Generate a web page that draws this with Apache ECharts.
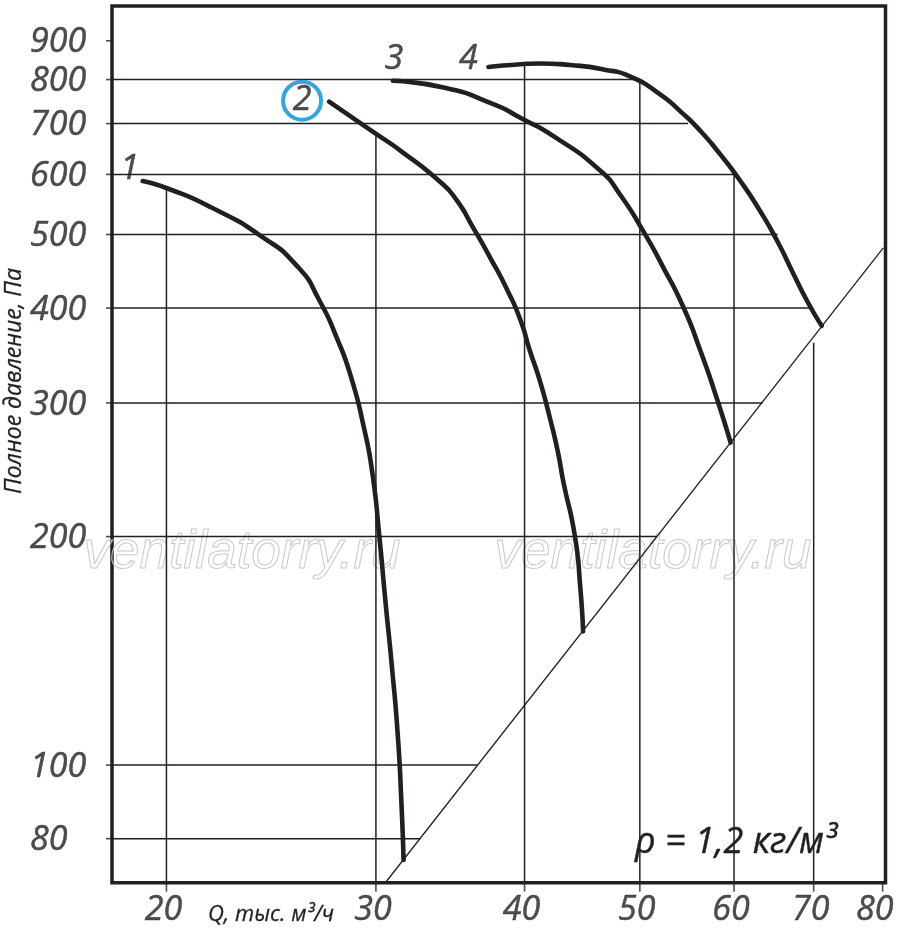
<!DOCTYPE html>
<html>
<head>
<meta charset="utf-8">
<script src="https://cdn.jsdelivr.net/npm/echarts@6/dist/echarts.min.js"></script>
<style>html,body{margin:0;padding:0;background:#fff}#c{width:900px;height:945px}</style>
</head>
<body>
<div id="c"></div>
<script>
// ---- tick labels ----
const xTickLabels = [20, 30, 40, 50, 60, 70, 80];
const yTickLabels = [80, 100, 200, 300, 400, 500, 600, 700, 800, 900];

// ---- fan curves: Q (thousand m3/h) and total pressure (Pa) ----
const curveNames = ['1', '2', '3', '4'];
const curve1Q = [19.1, 20.1, 21.8, 24.0, 25.8, 26.9, 27.8, 28.6, 29.3, 29.8, 30.2, 30.55, 30.94, 31.29, 31.51, 31.65];
const curve1P = [588, 574, 543, 498, 453, 409, 366, 324, 279, 242, 200, 165, 135, 110, 90, 75];
const curve2Q = [27.4, 29.9, 31.45, 34.0, 35.1, 36.2, 37.4, 38.7, 39.7, 40.4, 41.2, 42.0, 42.7, 43.1, 44.1, 44.55, 44.8];
const curve2P = [748, 681, 645, 586, 554, 511, 467, 422, 385, 352, 321, 287, 257, 237, 200, 172, 150];
const curve3Q = [31.0, 34.2, 37.7, 39.7, 42.3, 46.3, 48.1, 50.3, 52.3, 54.4, 56.2, 58.0, 59.6];
const curve3P = [797, 781, 742, 712, 674, 607, 565, 506, 453, 401, 352, 305, 266];
const curve4Q = [37.3, 39.7, 41.2, 43.7, 46.6, 49.1, 52.0, 54.05, 56.2, 58.4, 60.7, 63.1, 65.2, 67.3, 69.1, 71.1];
const curve4P = [831, 838, 840, 836, 825, 807, 765, 727, 685, 638, 589, 537, 491, 444, 409, 379];

// ---- system (boundary) line ----
const systemQ = [30.6, 80.1];
const systemP = [70.2, 480];

// ---- partial grid lines ----
const hGridP = [800, 700, 600, 500, 400, 300, 200, 100, 80];
const hGridEndQ = [50, 54.9, 60, 65.3, 69.8, 63.4, 51.7, 36.5, 32.7];
const vGridQ = [20, 30, 40, 50, 60, 70];
const vGridTopP = [574, 681, 837, 800, 600, 360];

// ---- axis extents ----
const X_MIN = 18, X_MAX = 80.44, Y_MIN = 70, Y_MAX = 1000;

const INK = '#231f20';
const FONT = '"Open Sans", "Noto Sans", sans-serif';

const chart = echarts.init(document.getElementById('c'));

function seg(data, width) {
  return {
    type: 'line', data: data, symbol: 'none', showSymbol: false, silent: true,
    lineStyle: { color: INK, width: width, cap: 'butt' }, z: 2
  };
}

const series = [];
hGridP.forEach((p, i) => series.push(seg([[X_MIN, p], [hGridEndQ[i], p]], 1.5)));
vGridQ.forEach((q, i) => series.push(seg([[q, vGridTopP[i]], [q, Y_MIN]], 1.5)));
series.push(seg(systemQ.map((q, i) => [q, systemP[i]]), 1.3));

const curves = [[curve1Q, curve1P], [curve2Q, curve2P], [curve3Q, curve3P], [curve4Q, curve4P]];
curves.forEach(([qs, ps], k) => series.push({
  type: 'line', name: curveNames[k],
  data: qs.map((q, i) => [q, ps[i]]),
  symbol: 'none', showSymbol: false, smooth: 0.6, silent: true,
  lineStyle: { color: INK, width: 4.6, cap: 'round', join: 'round' }, z: 5
}));

// tick marks
series.push({
  type: 'scatter', silent: true, clip: false, z: 6,
  data: yTickLabels.map(p => [X_MIN, p]),
  symbol: 'rect', symbolSize: [6, 1.6], symbolOffset: [-3, 0],
  itemStyle: { color: INK }
});
series.push({
  type: 'scatter', silent: true, clip: false, z: 6,
  data: xTickLabels.map(q => [q, Y_MIN]),
  symbol: 'rect', symbolSize: [1.6, 9], symbolOffset: [0, 4.5],
  itemStyle: { color: INK }
});

const tickText = {
  fontFamily: FONT, fontStyle: 'italic', color: INK,
  textBorderColor: INK, textBorderWidth: 0.5
};

// y tick labels
series.push({
  type: 'scatter', silent: true, clip: false, z: 6,
  data: yTickLabels.map(p => [X_MIN, p]),
  symbolSize: 1, itemStyle: { color: 'rgba(0,0,0,0)' },
  label: Object.assign({
    show: true, position: 'inside', align: 'left', verticalAlign: 'middle',
    offset: [-82, 2], fontSize: 34,
    formatter: d => String(d.value[1])
  }, tickText)
});
// x tick labels
series.push({
  type: 'scatter', silent: true, clip: false, z: 6,
  data: xTickLabels.map((q, i) => ({
    value: [q, Y_MIN],
    label: { offset: [i === xTickLabels.length - 1 ? -8 : -3, 28] }
  })),
  symbolSize: 1, itemStyle: { color: 'rgba(0,0,0,0)' },
  label: Object.assign({
    show: true, position: 'inside', align: 'center', verticalAlign: 'middle',
    fontSize: 34,
    formatter: d => String(d.value[0])
  }, tickText)
});

// curve number labels at the start of each curve
const nameOffsets = [[-13, -12], [-27, -1], [1, -21], [-20, -8]];
series.push({
  type: 'scatter', silent: true, clip: false, z: 7,
  data: curves.map(([qs, ps], k) => {
    const item = { value: [qs[0], ps[0]], label: { offset: nameOffsets[k] } };
    if (k === 1) {
      Object.assign(item.label, {
        width: 38, height: 38, lineHeight: 38,
        borderColor: '#0090d8', borderWidth: 4, borderRadius: 21
      });
    }
    return item;
  }),
  symbolSize: 1, itemStyle: { color: 'rgba(0,0,0,0)' },
  label: Object.assign({
    show: true, position: 'inside', align: 'center', verticalAlign: 'middle',
    fontSize: 34,
    formatter: d => curveNames[d.dataIndex]
  }, tickText)
});

const option = {
  animation: false,
  backgroundColor: '#ffffff',
  grid: {
    left: 112, right: 14.5, top: 6, bottom: 62.3,
    show: true, borderColor: INK, borderWidth: 3.5, backgroundColor: 'transparent'
  },
  xAxis: {
    type: 'log', logBase: 10, min: X_MIN, max: X_MAX,
    axisLine: { show: false }, axisTick: { show: false },
    axisLabel: { show: false }, splitLine: { show: false }
  },
  yAxis: {
    type: 'log', logBase: 10, min: Y_MIN, max: Y_MAX,
    axisLine: { show: false }, axisTick: { show: false },
    axisLabel: { show: false }, splitLine: { show: false }
  },
  graphic: [
    { type: 'text', z: 0, x: 242, y: 553, style: {
        text: 'ventilatorry.ru', font: 'italic 53px "Liberation Sans", Arial, sans-serif',
        fill: 'none', stroke: '#c9c9c9', lineWidth: 1, align: 'center', verticalAlign: 'middle' } },
    { type: 'text', z: 0, x: 653, y: 553, style: {
        text: 'ventilatorry.ru', font: 'italic 53px "Liberation Sans", Arial, sans-serif',
        fill: 'none', stroke: '#c9c9c9', lineWidth: 1, align: 'center', verticalAlign: 'middle' } },
    { type: 'text', z: 10, x: 14, y: 381, rotation: Math.PI / 2, style: {
        text: 'Полное давление, Па', font: 'italic 23px ' + FONT,
        fill: INK, stroke: INK, lineWidth: 0.3, align: 'center', verticalAlign: 'middle' } },
    { type: 'text', z: 10, x: 208, y: 915, style: {
        text: 'Q, тыс. м³/ч', font: 'italic 22px ' + FONT,
        fill: INK, stroke: INK, lineWidth: 0.3, align: 'left', verticalAlign: 'middle' } },
    { type: 'text', z: 10, x: 635, y: 843, style: {
        text: 'ρ = 1,2 кг/м³', font: 'italic 36px ' + FONT,
        fill: INK, stroke: INK, lineWidth: 0.4, align: 'left', verticalAlign: 'middle' } }
  ],
  series: series
};
chart.setOption(option);
</script>
</body>
</html>
